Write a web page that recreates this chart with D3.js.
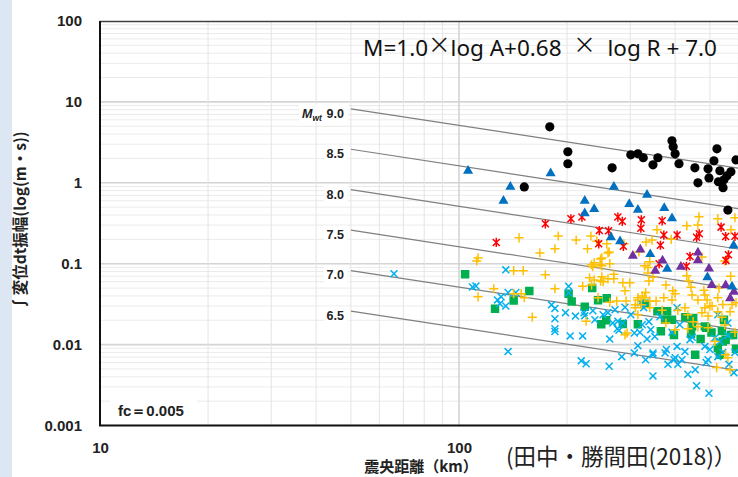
<!DOCTYPE html>
<html>
<head>
<meta charset="utf-8">
<script src="https://cdn.jsdelivr.net/npm/d3@7"></script>
<style>
  body { margin: 0; background: #fff; }
</style>
</head>
<body>
<div id="chart"></div>
<script>
// distance R (km), amplitude A (m*s)
const black = [[179,4.92],[152,0.89],[201,2.42],[201,1.72],[267,1.53],[301,2.22],[315,2.28],[326,2.04],[347,1.67],[358,2.04],[392,3.30],[395,2.79],[400,2.28],[410,1.72],[454,1.53],[463,1.0],[494,1.49],[497,1.15],[513,1.87],[523,2.63],[533,1.41],[528,1.03],[544,0.87],[547,1.09],[558,1.22],[572,1.37],[591,1.92],[561,0.46]]

const blue = [[106,1.41],[180,1.31],[139,0.89],[133,0.60],[270,0.89],[224,0.60],[224,0.42],[238,0.473],[298,0.545],[315,0.464],[334,0.71],[373,0.487],[392,0.364],[265,0.212],[281,0.189],[341,0.131],[380,0.0865],[492,0.068],[582,0.168],[576,0.052]]

const purple = [[305,0.125],[320,0.149],[352,0.0817],[369,0.109],[415,0.0916],[463,0.1375],[463,0.11],[497,0.0873],[506,0.0544],[553,0.054],[569,0.0373],[583,0.045]]

const red = [[127,0.183],[174,0.311],[205,0.359],[220,0.377],[277,0.377],[285,0.334],[322,0.349],[321,0.275],[368,0.339],[246,0.257],[261,0.255],[245,0.176],[287,0.164],[364,0.169],[372,0.226],[405,0.226],[467,0.234],[459,0.212],[537,0.283],[553,0.217],[587,0.218],[563,0.129],[440,0.123],[430,0.093],[361,0.0997],[554,0.11]]

const yellow = [[147,0.209],[189,0.22],[356,0.263],[431,0.294],[466,0.38],[526,0.36],[572,0.263],[587,0.37],[185,0.153],[212,0.196],[233,0.22],[228,0.153],[242,0.19],[258,0.176],[250,0.118],[260,0.136],[288,0.176],[332,0.186],[345,0.196],[390,0.2],[475,0.121],[168,0.136],[113,0.118],[112,0.108],[113,0.039],[142,0.082],[151,0.082],[174,0.073],[125,0.049],[149,0.0426],[160,0.0218],[185,0.049],[221,0.0526],[234,0.097],[248,0.114],[262,0.14],[250,0.094],[260,0.065],[270,0.065],[238,0.063],[248,0.061],[286,0.058],[299,0.058],[290,0.0463],[263,0.0334],[275,0.0345],[292,0.0345],[317,0.14],[329,0.094],[340,0.106],[336,0.077],[347,0.068],[331,0.044],[340,0.0345],[354,0.0345],[338,0.061],[324,0.04],[377,0.0545],[394,0.0463],[400,0.0426],[431,0.071],[443,0.051],[437,0.061],[481,0.047],[491,0.0357],[500,0.03],[526,0.038],[543,0.0313],[591,0.033],[550,0.108],[226,0.0195],[294,0.0139],[522,0.0052],[561,0.0069],[315,0.0357],[310,0.031],[336,0.09],[372,0.038],[392,0.0357],[446,0.041],[463,0.0357],[484,0.041],[507,0.03],[526,0.0255],[484,0.0286],[475,0.0248],[494,0.0225],[540,0.0218],[569,0.0255],[550,0.0175],[576,0.0313],[587,0.0142],[315,0.038],[329,0.038],[322,0.031],[310,0.0286],[315,0.0234],[340,0.0286],[368,0.0265],[407,0.0265],[426,0.0286],[434,0.0234],[449,0.0192],[463,0.0166],[494,0.0162],[290,0.0132],[434,0.0157],[516,0.0109],[553,0.0075],[569,0.0049],[377,0.0185],[400,0.0153],[142,0.0426],[152,0.038],[236,0.092],[238,0.103],[247,0.097],[231,0.067],[250,0.069],[252,0.06],[234,0.0545],[244,0.038],[463,0.3],[263,0.1],[270,0.074],[530,0.05],[571,0.07]]

const cyan = [[65.9,0.075],[135,0.084],[111.5,0.053],[128,0.0357],[130,0.032],[135,0.030],[131,0.039],[137,0.044],[144,0.044],[137,0.0082],[181,0.031],[185,0.028],[185,0.0209],[185,0.0157],[185,0.0145],[204,0.0128],[198,0.0248],[211,0.0225],[202,0.0526],[202,0.0438],[223,0.0248],[224,0.0228],[221,0.0128],[219,0.0063],[226,0.0058],[236,0.0262],[239,0.0203],[252,0.0234],[262,0.0054],[263,0.0117],[284,0.0071],[347,0.0041],[459,0.0031],[497,0.0025],[434,0.0043],[583,0.0045],[347,0.0079],[331,0.0065],[397,0.0065],[418,0.0065],[378,0.0087],[286,0.0185],[319,0.0142],[315,0.0097],[342,0.0153],[363,0.0222],[392,0.0142],[412,0.0176],[440,0.0115],[500,0.0087],[533,0.0109],[488,0.006],[565,0.0057],[272,0.027],[268,0.0185],[276,0.0157],[338,0.0192],[321,0.033],[327,0.0286],[526,0.0234],[561,0.0185],[260,0.0248],[277,0.0195],[279,0.015],[290,0.029],[301,0.0234],[308,0.0139],[308,0.0079],[324,0.0176],[347,0.0075],[375,0.0079],[382,0.0057],[400,0.0069],[407,0.0057],[405,0.0286],[405,0.0095],[426,0.0082],[455,0.0049],[494,0.0065],[484,0.0095],[516,0.0121],[526,0.0071],[543,0.008],[587,0.008],[561,0.013],[446,0.0123],[334,0.0117],[351,0.0126],[109,0.0515]]

const green = [[104,0.074],[126,0.0278],[142,0.035],[157,0.046],[202,0.0426],[206,0.034],[224,0.0294],[235,0.05],[244,0.0354],[258,0.0375],[257,0.02],[249,0.0178],[286,0.018],[315,0.0178],[329,0.032],[357,0.0258],[380,0.0258],[365,0.0146],[375,0.0203],[392,0.0203],[397,0.0131],[427,0.0218],[449,0.0213],[446,0.0168],[443,0.0136],[471,0.0117],[455,0.0075],[488,0.0161],[505,0.0141],[540,0.0147],[547,0.0203],[572,0.0131],[543,0.0109],[526,0.0091],[533,0.0075],[591,0.0089],[580,0.0131],[484,0.0168],[553,0.0115]]

// model lines: logA = Mw - 0.68 logR - c  (c)
const lineMw = [9.0, 8.5, 8.0, 7.5, 7.0, 6.5]
const lineLabels = ['9.0', '8.5', '8.0', '7.5', '7.0', '6.5']
const coefR = 0.68
const lineConst = 6.93
const lineR = [50, 1000]

const yTickValues = [0.001, 0.01, 0.1, 1, 10, 100]
const yTickLabels = ['0.001', '0.01', '0.1', '1', '10', '100']
const xTickValues = [10, 100]
const xTickLabels = ['10', '100']

const width = 738
const height = 477
const margin = { top: 21, left: 100, bottom: 51.5 }

const svg = d3
  .select('#chart')
  .append('svg')
  .attr('width', width)
  .attr('height', height)
  .style('display', 'block')

const x = d3.scaleLog().domain([10, 1000]).range([margin.left, 818])
const y = d3.scaleLog().domain([0.001, 100]).range([height - margin.bottom, margin.top])

// light strip on the far left
svg.append('rect')
  .attr('x', 0).attr('y', 0)
  .attr('width', 12).attr('height', height)
  .attr('fill', '#dde7f3')

svg.append('clipPath').attr('id', 'plot-clip')
  .append('rect')
  .attr('x', margin.left).attr('y', margin.top)
  .attr('width', width - margin.left).attr('height', y(0.001) - margin.top)

const plot = svg.append('g').attr('clip-path', 'url(#plot-clip)')

const isMajor = v => Math.abs(Math.log10(v) - Math.round(Math.log10(v))) < 1e-6

// grid
plot.selectAll('.ygrid')
  .data(y.ticks())
  .enter()
  .append('line')
  .attr('class', 'ygrid')
  .attr('x1', margin.left).attr('x2', width)
  .attr('y1', d => y(d)).attr('y2', d => y(d))
  .attr('stroke', d => isMajor(d) ? '#d4d4d4' : '#ebebeb')
  .attr('stroke-width', d => isMajor(d) ? 1.6 : 1)

plot.selectAll('.xgrid')
  .data(x.ticks())
  .enter()
  .append('line')
  .attr('class', 'xgrid')
  .attr('y1', margin.top).attr('y2', y(0.001))
  .attr('x1', d => x(d)).attr('x2', d => x(d))
  .attr('stroke', d => isMajor(d) ? '#d4d4d4' : '#e4e4e4')
  .attr('stroke-width', d => isMajor(d) ? 1.6 : 1)

// magnitude lines
const lineData = lineMw.map(m => lineR.map(r => [r, Math.pow(10, m - lineConst - coefR * Math.log10(r))]))
plot.selectAll('.mline')
  .data(lineData)
  .enter()
  .append('path')
  .attr('class', 'mline')
  .attr('d', d3.line().x(d => x(d[0])).y(d => y(d[1])))
  .attr('fill', 'none')
  .attr('stroke', '#7f7f7f')
  .attr('stroke-width', 1.2)

// labels of lines
const labelG = svg.append('g')
lineData.forEach((d, i) => {
  const ly = y(d[0][1]) + 4.5
  const left = i === 0 ? 299 : 324
  labelG.append('rect')
    .attr('x', left).attr('y', ly - 9)
    .attr('width', 348 - left).attr('height', 18)
    .attr('fill', '#fff')
  labelG.append('text')
    .attr('x', 344).attr('y', ly)
    .attr('dy', '0.35em')
    .attr('text-anchor', 'end')
    .attr('font-family', 'Liberation Sans, Arial, sans-serif')
    .attr('font-weight', 'bold')
    .attr('font-size', 12.5)
    .attr('fill', '#222')
    .text(lineLabels[i])
})
const mwt = labelG.append('text')
  .attr('x', 302).attr('y', y(lineData[0][0][1]) + 4.5)
  .attr('dy', '0.35em')
  .attr('font-family', 'Liberation Sans, Arial, sans-serif')
  .attr('font-weight', 'bold')
  .attr('font-style', 'italic')
  .attr('font-size', 12.5)
  .attr('fill', '#222')
mwt.append('tspan').text('M')
mwt.append('tspan').attr('font-size', 8.5).attr('dy', 3).text('wt')

// scatter
const symbolPath = (type, size) => d3.symbol().type(type).size(size)()

function drawCross(data, color, cls, arm, rotate) {
  plot.selectAll('.' + cls)
    .data(data)
    .enter()
    .append('path')
    .attr('class', cls)
    .attr('transform', d => `translate(${x(d[0])},${y(d[1])}) rotate(${rotate})`)
    .attr('d', `M${-arm},0H${arm}M0,${-arm}V${arm}`)
    .attr('stroke', color)
    .attr('stroke-width', 1.5)
    .attr('fill', 'none')
}

plot.selectAll('.green')
  .data(green)
  .enter()
  .append('path')
  .attr('class', 'green')
  .attr('transform', d => `translate(${x(d[0])},${y(d[1])})`)
  .attr('d', symbolPath(d3.symbolSquare, 72))
  .attr('fill', '#00b050')

drawCross(cyan, '#00b0f0', 'cyan', 4.9, 45)
drawCross(yellow, '#ffc000', 'yellow', 4.6, 0)

plot.selectAll('.red')
  .data(red)
  .enter()
  .append('path')
  .attr('class', 'red')
  .attr('transform', d => `translate(${x(d[0])},${y(d[1])})`)
  .attr('d', 'M-3.5,-3.5L3.5,3.5M-3.5,3.5L3.5,-3.5M0,-4.6V4.6')
  .attr('stroke', '#ff0000')
  .attr('stroke-width', 1.5)
  .attr('fill', 'none')

plot.selectAll('.purple')
  .data(purple)
  .enter()
  .append('path')
  .attr('class', 'purple')
  .attr('transform', d => `translate(${x(d[0])},${y(d[1])})`)
  .attr('d', symbolPath(d3.symbolTriangle, 44))
  .attr('fill', '#7030a0')

plot.selectAll('.blue')
  .data(blue)
  .enter()
  .append('path')
  .attr('class', 'blue')
  .attr('transform', d => `translate(${x(d[0])},${y(d[1])})`)
  .attr('d', symbolPath(d3.symbolTriangle, 44))
  .attr('fill', '#0070c0')

plot.selectAll('.black')
  .data(black)
  .enter()
  .append('circle')
  .attr('class', 'black')
  .attr('cx', d => x(d[0]))
  .attr('cy', d => y(d[1]))
  .attr('r', 4.6)
  .attr('fill', '#000')

// frame
svg.append('line')
  .attr('x1', margin.left).attr('x2', width)
  .attr('y1', margin.top + 0.5).attr('y2', margin.top + 0.5)
  .attr('stroke', '#404040').attr('stroke-width', 1.5)
svg.append('path')
  .attr('d', `M${margin.left},${margin.top}V${y(0.001)}H${width}`)
  .attr('fill', 'none')
  .attr('stroke', '#111').attr('stroke-width', 2)

// axes
const yAxis = d3.axisLeft(y)
  .tickValues(yTickValues)
  .tickFormat((d, i) => yTickLabels[i])
  .tickSize(0)
  .tickPadding(18)

svg.append('g')
  .attr('class', 'axis y-axis')
  .attr('transform', `translate(${margin.left},0)`)
  .call(yAxis)

const xAxis = d3.axisBottom(x)
  .tickValues(xTickValues)
  .tickFormat((d, i) => xTickLabels[i])
  .tickSize(0)
  .tickPadding(17)

svg.append('g')
  .attr('class', 'axis x-axis')
  .attr('transform', `translate(0,${y(0.001)})`)
  .call(xAxis)

svg.selectAll('.axis .domain').remove()
svg.selectAll('.axis text')
  .attr('font-family', 'Liberation Sans, Arial, sans-serif')
  .attr('font-weight', 'bold')
  .attr('font-size', 15)
  .attr('fill', '#222')

// texts
svg.append('text')
  .attr('transform', 'translate(26,221) rotate(-90)')
  .attr('text-anchor', 'middle')
  .attr('font-family', 'Noto Sans CJK JP, sans-serif')
  .attr('font-weight', 'bold')
  .attr('font-size', 15.5)
  .attr('fill', '#222')
  .text('∫変位dt振幅(log(m・s))')

svg.append('text')
  .attr('x', 421).attr('y', 472)
  .attr('text-anchor', 'middle')
  .attr('font-family', 'Noto Sans CJK JP, sans-serif')
  .attr('font-weight', 'bold')
  .attr('font-size', 15)
  .attr('fill', '#222')
  .text('震央距離（km）')

svg.append('text')
  .attr('x', 506).attr('y', 465)
  .attr('font-family', 'Noto Sans CJK JP, sans-serif')
  .attr('font-size', 22.5)
  .attr('fill', '#222')
  .text('(田中・勝間田(2018)）')

const title = svg.append('text')
  .attr('x', 363).attr('y', 56)
  .attr('font-family', 'Noto Sans, sans-serif')
  .attr('font-size', 22.5)
  .attr('fill', '#111')
  .attr('xml:space', 'preserve')
  .style('white-space', 'pre')
title.append('tspan').text('M=1.0')
title.append('tspan').attr('font-family', 'Noto Sans CJK JP, sans-serif').attr('dy', -3).text('×')
title.append('tspan').attr('dy', 3).text('log A+0.68  ')
title.append('tspan').attr('font-family', 'Noto Sans CJK JP, sans-serif').attr('dy', -3).text('×')
title.append('tspan').attr('dy', 3).text('  log R + 7.0')

svg.append('rect')
  .attr('x', 110).attr('y', 400)
  .attr('width', 87).attr('height', 22)
  .attr('fill', '#fff')
svg.append('text')
  .attr('x', 118).attr('y', 416)
  .attr('font-family', 'Liberation Sans, Arial, sans-serif')
  .attr('font-weight', 'bold')
  .attr('font-size', 15)
  .attr('fill', '#222')
  .text('fc＝0.005')
</script>
</body>
</html>
